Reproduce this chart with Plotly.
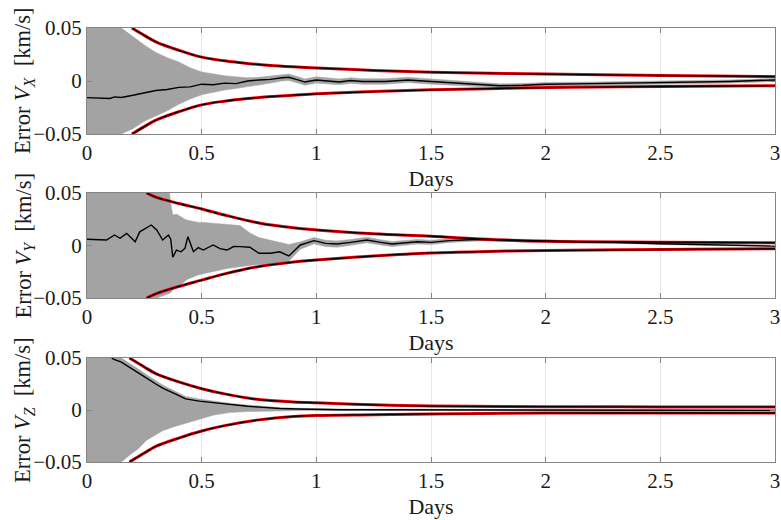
import plotly.graph_objects as go

# ---------------- DATA ----------------
x_ticks = [0, 0.5, 1, 1.5, 2, 2.5, 3]
x_ticklabels = ["0", "0.5", "1", "1.5", "2", "2.5", "3"]
y_ticks = [-0.05, 0, 0.05]
y_ticklabels = ["\u22120.05", "0", "0.05"]
x_title = "Days"
y_titles = ["Error <i>V<sub>X</sub></i>  [km/s]",
            "Error <i>V<sub>Y</sub></i>  [km/s]",
            "Error <i>V<sub>Z</sub></i>  [km/s]"]

# Panel 1 (V_X): mean error and Monte-Carlo envelope
t1 = [0, 0.05, 0.1, 0.12, 0.15, 0.2, 0.25, 0.3, 0.35, 0.4, 0.45, 0.5, 0.55, 0.6,
      0.65, 0.7, 0.75, 0.8, 0.85, 0.88, 0.92, 0.95, 1.0, 1.05, 1.1, 1.15, 1.2, 1.3,
      1.4, 1.5, 1.6, 1.7, 1.8, 1.9, 2.0, 2.2, 2.4, 2.6, 2.8, 3.0]
m1 = [-0.0157, -0.016, -0.0165, -0.015, -0.0155, -0.0135, -0.011, -0.009, -0.008,
      -0.006, -0.0055, -0.003, -0.0035, -0.002, -0.0025, 0.0, 0.001, 0.0015, 0.003,
      0.0035, 0.001, -0.001, 0.001, 0.0, -0.001, 0.0005, -0.0005, -0.0005, 0.001,
      -0.0005, -0.002, -0.003, -0.0045, -0.004, -0.003, -0.0025, -0.002, -0.0015,
      -0.0005, 0.001]
gu1 = [0.06, 0.06, 0.06, 0.06, 0.05, 0.042, 0.034, 0.027, 0.022, 0.018, 0.0125,
       0.0085, 0.0065, 0.005, 0.004, 0.003, 0.0035, 0.0045, 0.006, 0.0065, 0.004,
       0.002, 0.004, 0.003, 0.002, 0.003, 0.0022, 0.0022, 0.0035, 0.002, 0.0003,
       -0.001, -0.0027, -0.0023, -0.0013, -0.001, -0.0005, 0.0, 0.001, 0.0025]
gl1 = [-0.06, -0.06, -0.06, -0.06, -0.05, -0.045, -0.038, -0.033, -0.028, -0.022,
       -0.017, -0.013, -0.0105, -0.0085, -0.007, -0.0055, -0.004, -0.002, 0.0,
       0.0005, -0.002, -0.004, -0.002, -0.003, -0.0035, -0.0022, -0.003, -0.003,
       -0.0015, -0.003, -0.0042, -0.005, -0.0062, -0.0057, -0.0047, -0.004,
       -0.0035, -0.003, -0.002, -0.0005]
b1_t = [0.196, 0.25, 0.3, 0.4, 0.5, 0.6, 0.7, 0.8, 0.9, 1.0, 1.25, 1.5, 1.75, 2.0, 2.5, 3.0]
b1_hi = [0.050, 0.043, 0.037, 0.029, 0.0225, 0.019, 0.0165, 0.0147, 0.0134, 0.0123,
         0.0100, 0.0083, 0.0073, 0.0065, 0.0052, 0.0042]
b1_lo = [-0.050, -0.043, -0.037, -0.029, -0.0225, -0.019, -0.0165, -0.0147, -0.0134,
         -0.0121, -0.0100, -0.0083, -0.0072, -0.0062, -0.0052, -0.0044]

# Panel 2 (V_Y)
t2 = [0, 0.05, 0.085, 0.12, 0.144, 0.173, 0.21, 0.23, 0.255, 0.28, 0.304, 0.33,
      0.355, 0.365, 0.374, 0.39, 0.41, 0.427, 0.44, 0.464, 0.485, 0.507, 0.55, 0.58,
      0.61, 0.64, 0.667, 0.71, 0.75, 0.8, 0.84, 0.88, 0.93, 0.99, 1.04, 1.09, 1.15,
      1.22, 1.28, 1.33, 1.44, 1.5, 1.58, 1.65, 1.73, 1.85, 1.95, 2.1, 2.3, 2.5, 2.7, 3.0]
m2 = [0.006, 0.0055, 0.0052, 0.010, 0.0069, 0.0116, 0.0036, 0.013, 0.016, 0.0195,
      0.0148, 0.0052, 0.010, 0.006, -0.0112, -0.0043, -0.006, -0.0027, 0.0084, -0.0059,
      -0.002, -0.0043, 0.0005, -0.003, -0.0043, -0.001, -0.0011, -0.0017, -0.0074,
      -0.0074, -0.006, -0.010, 0.0005, 0.0046, 0.002, 0.0014, 0.003, 0.0052, 0.003,
      0.0014, 0.0036, 0.003, 0.0046, 0.005, 0.006, 0.005, 0.0046, 0.004, 0.003, 0.0016,
      0.0005, -0.0006]
gu2 = [0.06, 0.06, 0.06, 0.06, 0.06, 0.06, 0.06, 0.06, 0.06, 0.06, 0.06, 0.06, 0.06,
       0.04, 0.029, 0.03, 0.027, 0.025, 0.024, 0.023, 0.022, 0.022, 0.021, 0.0205,
       0.02, 0.0195, 0.019, 0.012, 0.0075, 0.005, 0.003, 0.001, 0.0035, 0.0076, 0.005,
       0.0044, 0.0058, 0.0078, 0.0055, 0.0038, 0.0058, 0.005, 0.0064, 0.0066, 0.0074,
       0.0062, 0.0056, 0.0049, 0.0038, 0.0023, 0.0011, 0.0]
gl2 = [-0.06, -0.06, -0.06, -0.06, -0.06, -0.06, -0.06, -0.06, -0.06, -0.055, -0.05,
       -0.048, -0.046, -0.045, -0.042, -0.04, -0.037, -0.034, -0.032, -0.03, -0.028,
       -0.027, -0.025, -0.023, -0.022, -0.021, -0.02, -0.019, -0.018, -0.017, -0.016,
       -0.015, -0.0035, 0.0016, -0.001, -0.0016, 0.0002, 0.0026, 0.0005, -0.001, 0.0014,
       0.001, 0.0028, 0.0034, 0.0046, 0.0038, 0.0036, 0.0031, 0.0022, 0.0009, -0.0001,
       -0.0012]
b2_t = [0.26, 0.3, 0.4, 0.5, 0.6, 0.75, 0.9, 1.0, 1.25, 1.5, 1.75, 2.0, 2.5, 3.0]
b2_hi = [0.050, 0.046, 0.040, 0.0348, 0.029, 0.0214, 0.0168, 0.0148, 0.0112, 0.0088,
         0.0058, 0.0040, 0.0032, 0.0026]
b2_lo = [-0.050, -0.046, -0.039, -0.033, -0.027, -0.020, -0.0158, -0.0138, -0.0100,
         -0.0071, -0.0057, -0.0048, -0.0038, -0.0031]

# Panel 3 (V_Z)
t3 = [0, 0.05, 0.1, 0.115, 0.15, 0.188, 0.22, 0.26, 0.3, 0.33, 0.38, 0.43, 0.49,
      0.55, 0.62, 0.7, 0.77, 0.84, 0.92, 0.99, 1.1, 1.25, 1.5, 1.75, 2.0, 2.5, 3.0]
m3 = [0.065, 0.06, 0.052, 0.0488, 0.046, 0.041, 0.036, 0.0307, 0.025, 0.021, 0.016,
      0.0107, 0.0085, 0.0069, 0.005, 0.0036, 0.0025, 0.0014, 0.0009, 0.0005, 0.0003,
      0.0002, 0.0, 0.0, 0.0, -0.0002, -0.0004]
gu3 = [0.06, 0.06, 0.06, 0.06, 0.05, 0.045, 0.04, 0.034, 0.028, 0.024, 0.0185, 0.013,
       0.0105, 0.0085, 0.0065, 0.0048, 0.0035, 0.0024, 0.0017, 0.0012, 0.001, 0.0008,
       0.0006, 0.0005, 0.0005, 0.0004, 0.0003]
gl3 = [-0.06, -0.06, -0.06, -0.055, -0.05, -0.043, -0.038, -0.029, -0.024, -0.02,
       -0.016, -0.0125, -0.009, -0.005, -0.0025, -0.0015, -0.001, -0.0008, -0.0006,
       -0.0005, -0.0004, -0.0004, -0.0004, -0.0004, -0.0004, -0.0005, -0.0006]
b3_t = [0.185, 0.25, 0.3, 0.4, 0.5, 0.6, 0.75, 0.9, 1.0, 1.25, 1.5, 2.0, 2.5, 3.0]
b3_hi = [0.050, 0.0414, 0.035, 0.027, 0.0205, 0.0155, 0.010, 0.0078, 0.0069, 0.0050,
         0.0038, 0.0032, 0.0030, 0.0029]
b3_lo = [-0.050, -0.0414, -0.035, -0.027, -0.0202, -0.015, -0.0095, -0.0062, -0.0052,
         -0.0045, -0.0038, -0.0030, -0.0029, -0.0029]

panels = [
    (t1, m1, gu1, gl1, b1_t, b1_hi, b1_lo),
    (t2, m2, gu2, gl2, b2_t, b2_hi, b2_lo),
    (t3, m3, gu3, gl3, b3_t, b3_hi, b3_lo),
]

# ---------------- STYLE ----------------
W, H = 781, 520
L, R = 87, 6
FONT = "Liberation Serif"
GRAY = "#a3a3a3"
RED = "#e8000b"
AXIS = "#858585"
GRID = "#e6e6e6"
TXT = "#1a1a1a"
# panel pixel extents (top, bottom) in the 520-px window
pix = [(28, 134), (193, 298), (358, 462)]
ytitle_px = 24  # horizontal centre of the rotated y titles

fig = go.Figure()
for i, (t, m, gu, gl, bt, bh, bl) in enumerate(panels):
    n = "" if i == 0 else str(i + 1)
    xa, ya = "x" + n, "y" + n
    fig.add_trace(go.Scatter(x=t, y=gl, mode="lines", line=dict(color=GRAY, width=0.5),
                             xaxis=xa, yaxis=ya, showlegend=False, hoverinfo="skip"))
    fig.add_trace(go.Scatter(x=t, y=gu, mode="lines", line=dict(color=GRAY, width=0.5),
                             fill="tonexty", fillcolor=GRAY,
                             xaxis=xa, yaxis=ya, showlegend=False, hoverinfo="skip"))
    for b in (bh, bl):
        fig.add_trace(go.Scatter(x=bt, y=b, mode="lines",
                                 line=dict(color=RED, width=3.0, shape="spline"),
                                 xaxis=xa, yaxis=ya, showlegend=False))
        fig.add_trace(go.Scatter(x=bt, y=b, mode="lines",
                                 line=dict(color="black", width=1.3, shape="spline"),
                                 xaxis=xa, yaxis=ya, showlegend=False))
    fig.add_trace(go.Scatter(x=t, y=m, mode="lines", line=dict(color="black", width=1.4),
                             xaxis=xa, yaxis=ya, showlegend=False))

    top, bot = pix[i]
    dom = [1 - bot / H, 1 - top / H]
    fig.layout["xaxis" + n] = dict(
        domain=[0, 1], range=[0, 3], anchor=ya,
        tickvals=x_ticks, ticktext=x_ticklabels,
        showgrid=True, gridcolor=GRID, gridwidth=1, zeroline=False,
        showline=True, linecolor=AXIS, linewidth=1, mirror="ticks",
        ticks="inside", ticklen=5, tickcolor=AXIS,
        tickfont=dict(family=FONT, size=21, color=TXT),
        title=dict(text=x_title, font=dict(family=FONT, size=22, color=TXT),
                   standoff=6),
        automargin=False,
    )
    fig.layout["yaxis" + n] = dict(
        domain=dom, range=[-0.05, 0.05], anchor=xa,
        tickvals=y_ticks, ticktext=y_ticklabels,
        showgrid=False, zeroline=False,
        showline=True, linecolor=AXIS, linewidth=1, mirror="ticks",
        ticks="inside", ticklen=5, tickcolor=AXIS,
        tickfont=dict(family=FONT, size=21, color=TXT),
        automargin=False,
    )
    fig.add_annotation(
        text=y_titles[i], textangle=-90, showarrow=False,
        xref="paper", yref="paper",
        x=(ytitle_px - L) / (W - L - R), y=(dom[0] + dom[1]) / 2,
        xanchor="center", yanchor="middle",
        font=dict(family=FONT, size=22.5, color=TXT),
    )

fig.update_layout(
    width=W, height=H,
    margin=dict(l=L, r=R, t=0, b=0),
    paper_bgcolor="white", plot_bgcolor="white",
)

fig.write_html("out.html")
